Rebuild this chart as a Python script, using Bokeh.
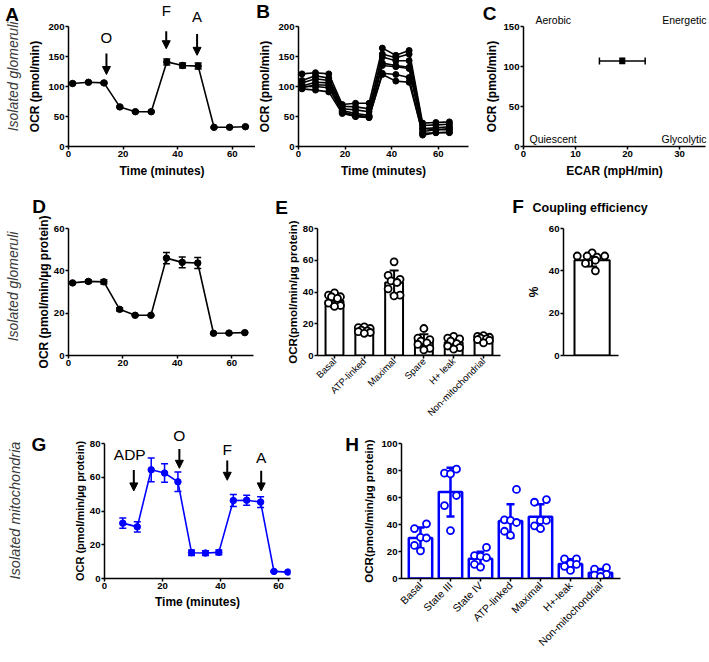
import numpy as np
from bokeh.plotting import figure
from bokeh.models import Range1d, Label, Arrow, NormalHead, GridBox
from bokeh.layouts import row, column
from bokeh.embed import file_html
from bokeh.resources import INLINE

FONT = "Liberation Sans"
BLUE = "#0000ff"
BLACK = "black"
GREY = "#3a3a3a"

# ---------------- data ----------------
# A: isolated glomeruli, mean OCR trace
time_a = [1.5, 7.3, 13.0, 18.8, 24.5, 30.3, 36.0, 41.8, 47.5, 53.3, 59.0, 64.8]
ocr_a = [105, 107, 106, 66, 58, 58, 141, 135, 134, 32, 32, 33]
ocr_a_err = [1.5, 1.5, 1.5, 1.5, 1.0, 1.0, 5.0, 4.0, 5.0, 1.0, 1.0, 1.0]

# B: individual wells
ocr_b_well1 = [121, 123, 121, 70, 72, 72, 164, 152, 160, 39, 40, 41]
ocr_b_well2 = [110, 118, 114, 67, 66, 63, 154, 148, 154, 35, 36, 37]
ocr_b_well3 = [106, 113, 110, 63, 61, 58, 149, 143, 143, 30, 31, 33]
ocr_b_well4 = [101, 107, 106, 60, 55, 52, 139, 135, 132, 30, 28, 30]
ocr_b_well5 = [98, 103, 102, 58, 52, 50, 135, 133, 130, 25, 28, 28]
ocr_b_well6 = [96, 94, 91, 55, 50, 48, 122, 120, 115, 19, 23, 23]
ocr_b_well7 = [100, 100, 98, 57, 50, 49, 120, 109, 107, 22, 23, 24]
ocr_b_wells = [ocr_b_well1, ocr_b_well2, ocr_b_well3, ocr_b_well4,
               ocr_b_well5, ocr_b_well6, ocr_b_well7]

# C: energy map
ecar_c = [19.0]
ecar_c_err = [4.4]
ocr_c = [107.0]
ocr_c_err = [3.3]
quadrants_c = ["Aerobic", "Energetic", "Quiescent", "Glycolytic"]

# D: normalised trace
ocr_d = [34.3, 35.0, 34.8, 21.8, 19.0, 19.0, 46.0, 44.0, 43.7, 10.5, 10.6, 10.8]
ocr_d_err = [0.4, 0.7, 1.0, 0.8, 0.3, 0.3, 2.7, 2.5, 2.6, 0.3, 0.3, 0.3]

# E: parameters
cats_e = ["Basal", "ATP-linked", "Maximal", "Spare", "H+ leak", "Non-mitochondrial"]
mean_e = [34.5, 16.0, 46.0, 9.8, 8.3, 10.5]
sd_e = [4.0, 1.5, 7.5, 3.6, 3.2, 1.5]
points_e = [
    [39.5, 38, 37, 37, 36, 33, 31.5, 31],
    [18, 17.5, 17, 16, 15.5, 15, 14.5, 14],
    [59, 50.5, 48, 47, 46, 42, 38, 37.5],
    [17, 11, 10, 9, 8, 7, 4.5, 3.5],
    [12, 11, 10.5, 9, 7.5, 6, 5, 4],
    [12.5, 12, 11.5, 11, 10.5, 10, 9.5, 8],
]

# F: coupling efficiency
mean_f = [45.0]
sd_f = [3.0]
points_f = [48.5, 47, 47, 47, 46.5, 45, 43.5, 40]

# G: isolated mitochondria trace
time_g = [6.3, 11.3, 16.1, 20.7, 25.3, 30.0, 34.8, 39.4, 44.4, 49.0, 53.8, 58.4, 63.2]
ocr_g = [32.8, 30.6, 64.4, 62.5, 57.3, 15.3, 15.1, 15.5, 46.2, 46.4, 45.3, 4.2, 3.8]
ocr_g_err = [3.0, 3.0, 7.0, 5.5, 5.8, 1.6, 1.4, 1.4, 3.6, 3.0, 3.2, 0.3, 0.3]

# H: mitochondria parameters
cats_h = ["Basal", "State III", "State IV", "ATP-linked", "Maximal", "H+-leak", "Non-mitochondrial"]
mean_h = [30.0, 64.0, 14.6, 42.6, 45.7, 10.8, 4.3]
sd_h = [7.7, 18.0, 5.3, 12.4, 9.3, 3.5, 2.8]
points_h = [
    [40.5, 37, 30.5, 30, 24.5, 20.5],
    [81, 78, 77.5, 61.5, 54, 35.5],
    [23, 17, 16.5, 15.5, 10.5, 8.5],
    [66, 43.5, 43, 41.5, 35, 32],
    [58.5, 56.5, 43, 43, 39, 37],
    [14.5, 14.5, 11, 10.5, 9, 6],
    [8, 7, 4, 3, 2.5, 1.5],
]

# injections (label, time, arrow top, arrow tip, label position)
inj_a_labels = ["O", "F", "A"]
inj_a_time = [13.9, 35.8, 47.1]
inj_a_top = [155, 192, 187.5]
inj_a_tip = [120, 163, 152]
inj_a_text_y = [176, 220, 210]
inj_g_labels = ["ADP", "O", "F", "A"]
inj_g_time = [10.1, 25.8, 42.3, 54.0]
inj_g_top = [64.3, 76.7, 70.0, 63.8]
inj_g_tip = [51.9, 65.3, 58.2, 51.9]
inj_g_text_x = [8.7, 25.8, 42.3, 54.0]
inj_g_text_y = [73.9, 84.4, 76.7, 71.9]

# tick values
ticks_time = [0, 20, 40, 60]
ticks_ocr_ab = [0, 50, 100, 150, 200]
ticks_c_x = [0, 10, 20, 30]
ticks_c_y = [0, 50, 100, 150]
ticks_60 = [0, 20, 40, 60]
ticks_80 = [0, 20, 40, 60, 80]
ticks_100 = [0, 20, 40, 60, 80, 100]

# ---------------- layout (page pixel coords) ----------------
PAGE = (0, 0, 707, 660)
PANELS = {
    "A": dict(fig=(0, 0, 255, 190), frame=(68, 22, 255, 146), xr=(0, 68.5), yr=(0, 200)),
    "B": dict(fig=(255, 0, 470, 190), frame=(292, 26, 468, 147), xr=(0, 73.0), yr=(0, 200)),
    "C": dict(fig=(470, 0, 707, 190), frame=(523, 21, 705, 149), xr=(0, 35.0), yr=(0, 150)),
    "D": dict(fig=(0, 190, 256, 424), frame=(68, 223, 253, 364), xr=(0, 68), yr=(0, 60)),
    "E": dict(fig=(256, 190, 508, 424), frame=(317, 218, 500, 358), xr=(-0.57, 5.57), yr=(0, 80)),
    "F": dict(fig=(508, 190, 707, 424), frame=(563, 228, 618, 360), xr=(-0.52, 0.48), yr=(0, 60)),
    "G": dict(fig=(0, 424, 340, 660), frame=(104, 443, 290, 582), xr=(0, 64.1), yr=(0, 80)),
    "H": dict(fig=(340, 424, 707, 660), frame=(401, 438, 620, 578), xr=(-0.633, 6.667), yr=(0, 100)),
}


def data2px(key, x, y):
    c = PANELS[key]
    l, t, r, b = c["frame"]
    x0, x1 = c["xr"]
    y0, y1 = c["yr"]
    return l + (x - x0) / (x1 - x0) * (r - l), b - (y - y0) / (y1 - y0) * (b - t)


def make(key):
    c = PANELS[key]
    fl, ft, fr, fb = c["fig"]
    l, t, r, b = c["frame"]
    p = figure(width=fr - fl, height=fb - ft,
               x_range=Range1d(*c["xr"]), y_range=Range1d(*c["yr"]),
               min_border_left=l - fl, min_border_right=fr - r,
               min_border_top=t - ft, min_border_bottom=fb - b,
               output_backend="svg", toolbar_location=None)
    p.grid.visible = False
    p.outline_line_color = None
    p.background_fill_color = "white"
    p.border_fill_color = "white"
    for ax in p.axis:
        ax.axis_line_width = 1.5
        ax.axis_line_color = BLACK
        ax.major_tick_line_width = 1.5
        ax.major_tick_line_color = BLACK
        ax.major_tick_out = 3
        ax.major_tick_in = 0
        ax.minor_tick_line_color = None
        ax.major_label_text_font = FONT
        ax.major_label_text_font_style = "bold"
        ax.major_label_text_font_size = "9.6px"
        ax.major_label_text_color = BLACK
        ax.major_label_standoff = 1
        ax.axis_label_text_font = FONT
        ax.axis_label_text_font_style = "bold"
        ax.axis_label_text_font_size = "12px"
        ax.axis_label_text_color = BLACK
    return p


def arrow(p, x, y0, y1, color=BLACK):
    p.add_layout(Arrow(end=NormalHead(size=8, fill_color=color, line_color=color),
                       x_start=x, y_start=y0, x_end=x, y_end=y1,
                       line_color=color, line_width=2))


def errbars(p, x, y, err, color, cap=7, lw=1.5):
    lo = [a - e for a, e in zip(y, err)]
    hi = [a + e for a, e in zip(y, err)]
    p.segment(x, lo, x, hi, line_color=color, line_width=lw)
    p.scatter(x, hi, marker="dash", size=cap, line_color=color, line_width=lw)
    p.scatter(x, lo, marker="dash", size=cap, line_color=color, line_width=lw)


def trace(p, x, y, err, color, size=6.5):
    p.line(x, y, line_color=color, line_width=1.6)
    if err is not None:
        errbars(p, x, y, err, color)
    p.scatter(x, y, marker="circle", size=size, fill_color=color, line_color=color)


JIT8 = [0.0, -0.2, 0.2, -0.1, 0.1, -0.2, 0.2, 0.0]
JIT6 = [0.2, -0.2, 0.0, 0.2, -0.2, 0.0]
JIT_F = [0.0, -0.27, 0.23, -0.09, 0.09, 0.06, -0.12, 0.06]


def bar_panel(p, means, sds, pts, jit, width, color, cap, lw=2.0):
    xs = list(range(len(means)))
    p.vbar(x=xs, top=means, bottom=0, width=width, fill_color="white",
           line_color=color, line_width=lw)
    errbars(p, xs, means, sds, color, cap=cap, lw=lw)
    px, py = [], []
    for i, vals in enumerate(pts):
        for j, v in enumerate(vals):
            px.append(i + jit[j % len(jit)])
            py.append(v)
    p.scatter(px, py, marker="circle", size=7, fill_color="white",
              line_color=color, line_width=1.8)


# ---------------- overlay for texts outside the plot frames ----------------
ov = figure(width=PAGE[2] - PAGE[0], height=PAGE[3] - PAGE[1],
            x_range=Range1d(PAGE[0], PAGE[2]), y_range=Range1d(PAGE[3], PAGE[1]),
            min_border=0, x_axis_type=None, y_axis_type=None, title=None,
            output_backend="svg", toolbar_location=None)
ov.outline_line_color = None
ov.background_fill_color = None
ov.border_fill_color = None


def otext(px, py, s, size, style="normal", align="center", angle=0.0, color=BLACK):
    ov.add_layout(Label(x=px, y=py, text=s, text_font=FONT, text_font_size=f"{size}px",
                        text_font_style=style, text_align=align, text_baseline="middle",
                        angle=angle, text_color=color))


# ---------------- Panel A ----------------
pA = make("A")
trace(pA, time_a, ocr_a, ocr_a_err, BLACK)
pA.xaxis.ticker = ticks_time
pA.yaxis.ticker = ticks_ocr_ab
pA.xaxis.axis_label = "Time (minutes)"
pA.yaxis.axis_label = "OCR (pmol/min)"
pA.xaxis.axis_label_standoff = 4
pA.yaxis.axis_label_standoff = 3
for lab, t, y0, y1, ty in zip(inj_a_labels, inj_a_time, inj_a_top, inj_a_tip, inj_a_text_y):
    arrow(pA, t, y0, y1)
    otext(*data2px("A", t, ty), lab, 15)
otext(11.5, 13.5, "A", 19, style="bold")
otext(12, 76, "Isolated glomeruli", 14, style="italic", angle=np.pi / 2, color=GREY)

# ---------------- Panel B ----------------
pB = make("B")
for well in ocr_b_wells:
    trace(pB, time_a, well, None, BLACK, size=6)
pB.xaxis.ticker = ticks_time
pB.yaxis.ticker = ticks_ocr_ab
pB.xaxis.axis_label = "Time (minutes)"
pB.yaxis.axis_label = "OCR (pmol/min)"
pB.xaxis.axis_label_standoff = 4
pB.yaxis.axis_label_standoff = 3
otext(262.5, 11, "B", 19, style="bold")

# ---------------- Panel C ----------------
pC = make("C")
errbars(pC, ecar_c, ocr_c, ocr_c_err, BLACK, cap=6)
lo = [a - e for a, e in zip(ecar_c, ecar_c_err)]
hi = [a + e for a, e in zip(ecar_c, ecar_c_err)]
pC.segment(lo, ocr_c, hi, ocr_c, line_color=BLACK, line_width=1.5)
pC.scatter(lo, ocr_c, marker="dash", angle=np.pi / 2, size=7, line_color=BLACK, line_width=1.5)
pC.scatter(hi, ocr_c, marker="dash", angle=np.pi / 2, size=7, line_color=BLACK, line_width=1.5)
pC.scatter(ecar_c, ocr_c, marker="square", size=5, fill_color=BLACK, line_color=BLACK)
pC.xaxis.ticker = ticks_c_x
pC.yaxis.ticker = ticks_c_y
pC.xaxis.axis_label = "ECAR (mpH/min)"
pC.yaxis.axis_label = "OCR (pmol/min)"
pC.xaxis.axis_label_standoff = 4
pC.yaxis.axis_label_standoff = 1
otext(535, 19, quadrants_c[0], 10.5, align="left")
otext(706, 19, quadrants_c[1], 10.5, align="right")
otext(529, 138.5, quadrants_c[2], 10.5, align="left")
otext(706, 138.5, quadrants_c[3], 10.5, align="right")
otext(489, 12.5, "C", 19, style="bold")

# ---------------- Panel D ----------------
pD = make("D")
trace(pD, time_a, ocr_d, ocr_d_err, BLACK)
pD.xaxis.ticker = ticks_time
pD.yaxis.ticker = ticks_60
pD.yaxis.axis_label = "OCR (pmol/min/\u00b5g protein)"
pD.yaxis.axis_label_standoff = 0
otext(38.5, 205.5, "D", 19, style="bold")
otext(12.5, 286, "Isolated glomeruli", 14, style="italic", angle=np.pi / 2, color=GREY)

# ---------------- Panel E ----------------
pE = make("E")
bar_panel(pE, mean_e, sd_e, points_e, JIT8, 0.6, BLACK, cap=9)
pE.xaxis.ticker = list(range(len(cats_e)))
pE.xaxis.major_label_overrides = {i: c for i, c in enumerate(cats_e)}
pE.xaxis.major_label_orientation = np.pi / 4
pE.xaxis.major_label_text_font_style = "normal"
pE.xaxis.major_label_text_font_size = "9.5px"
pE.xaxis.major_label_standoff = 1
pE.yaxis.ticker = ticks_80
pE.yaxis.axis_label = "OCR(pmol/min/\u00b5g protein)"
pE.yaxis.axis_label_text_font_size = "11.5px"
pE.yaxis.axis_label_standoff = 1
otext(281, 206.5, "E", 19, style="bold")

# ---------------- Panel F ----------------
pF = make("F")
bar_panel(pF, mean_f, sd_f, [points_f], JIT_F, 0.64, BLACK, cap=10)
pF.xaxis.ticker = []
pF.yaxis.ticker = ticks_60
pF.yaxis.axis_label = "%"
pF.yaxis.axis_label_standoff = 5
otext(517.5, 206, "F", 19, style="bold")
otext(532, 207, "Coupling efficiency", 12.5, style="bold", align="left")

# ---------------- Panel G ----------------
pG = make("G")
trace(pG, time_g, ocr_g, ocr_g_err, BLUE)
pG.xaxis.ticker = ticks_time
pG.yaxis.ticker = ticks_80
pG.xaxis.axis_label = "Time (minutes)"
pG.yaxis.axis_label = "OCR (pmol/min/\u00b5g protein)"
pG.xaxis.axis_label_standoff = 3
pG.yaxis.axis_label_standoff = 1
pG.yaxis.axis_label_text_font_size = "11px"
for lab, t, y0, y1, tx, ty in zip(inj_g_labels, inj_g_time, inj_g_top, inj_g_tip,
                                  inj_g_text_x, inj_g_text_y):
    arrow(pG, t, y0, y1)
    otext(*data2px("G", tx, ty), lab, 15.5)
otext(38.5, 443.5, "G", 19, style="bold")
otext(14, 510, "Isolated mitochondria", 14.5, style="italic", angle=np.pi / 2, color=GREY)

# ---------------- Panel H ----------------
pH = make("H")
bar_panel(pH, mean_h, sd_h, points_h, JIT6, 0.78, BLUE, cap=8, lw=2.5)
pH.xaxis.ticker = list(range(len(cats_h)))
pH.xaxis.major_label_overrides = {i: c for i, c in enumerate(cats_h)}
pH.xaxis.major_label_orientation = np.pi / 4
pH.xaxis.major_label_text_font_style = "normal"
pH.xaxis.major_label_text_font_size = "10.5px"
pH.xaxis.major_label_standoff = 2
pH.yaxis.ticker = ticks_100
pH.yaxis.axis_label = "OCR(pmol/min/\u00b5g protein)"
pH.yaxis.axis_label_text_font_size = "11.5px"
pH.yaxis.axis_label_standoff = 3
otext(351.5, 443.5, "H", 19, style="bold")

main = column(row(pA, pB, pC), row(pD, pE, pF), row(pG, pH))
layout = GridBox(children=[(main, 0, 0), (ov, 0, 0)])

open("out.html", "w").write(file_html(layout, INLINE))
